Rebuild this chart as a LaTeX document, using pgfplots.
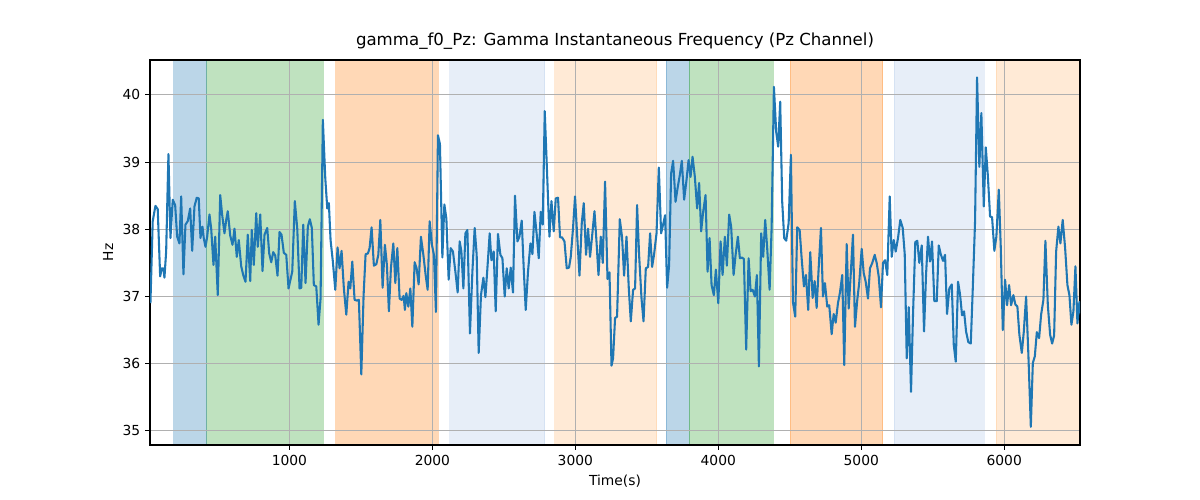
\documentclass[border=0pt]{standalone}
\usepackage{fontspec}
\setmainfont{DejaVu Sans}
\usepackage{pgfplots}
\pgfplotsset{compat=1.18}
\usetikzlibrary{calc}

\definecolor{tabblue}{HTML}{1F77B4}
\definecolor{taborange}{HTML}{FF7F0E}
\definecolor{tabgreen}{HTML}{2CA02C}
\definecolor{ltblue}{HTML}{AEC7E8}
\definecolor{ltorange}{HTML}{FFBB78}
\definecolor{gridgray}{HTML}{B0B0B0}

\begin{document}
\begin{tikzpicture}
\begin{axis}[
  set layers,
  scale only axis,
  width=9.3in,height=3.85in,
  xmin=25,xmax=6530,ymin=34.79,ymax=40.52,
  xtick={1000,2000,3000,4000,5000,6000},
  ytick={35,36,37,38,39,40},
  grid=major,
  major grid style={gridgray,line width=0.8pt},
  tick align=outside,
  major tick length=3.5pt,
  tick pos=left,
  axis line style={line width=0.8pt},
  tick style={black,line width=0.8pt},
  /pgf/number format/assume math mode=true,
  /pgf/number format/1000 sep={},
  tick label style={font=\normalsize},
  xlabel={Time(s)},ylabel={Hz},
  title={gamma\_f0\_Pz: Gamma Instantaneous Frequency (Pz Channel)},
  title style={font=\large,yshift=-2pt},
  every axis plot/.append style={line join=round},
  span/.style={draw=#1,fill=#1,opacity=0.3,on layer=axis background},
]
% shaded segments (span the full y range of the axis)
\addplot[span=tabblue] coordinates {(191,34.79) (191,40.52) (422,40.52) (422,34.79)} -- cycle;
\addplot[span=tabgreen] coordinates {(422,34.79) (422,40.52) (1237,40.52) (1237,34.79)} -- cycle;
\addplot[span=taborange] coordinates {(1323,34.79) (1323,40.52) (2039,40.52) (2039,34.79)} -- cycle;
\addplot[span=ltblue] coordinates {(2121,34.79) (2121,40.52) (2786,40.52) (2786,34.79)} -- cycle;
\addplot[span=ltorange] coordinates {(2856,34.79) (2856,40.52) (3568,40.52) (3568,34.79)} -- cycle;
\addplot[span=tabblue] coordinates {(3633,34.79) (3633,40.52) (3796,40.52) (3796,34.79)} -- cycle;
\addplot[span=tabgreen] coordinates {(3796,34.79) (3796,40.52) (4384,40.52) (4384,34.79)} -- cycle;
\addplot[span=taborange] coordinates {(4501,34.79) (4501,40.52) (5150,40.52) (5150,34.79)} -- cycle;
\addplot[span=ltblue] coordinates {(5229,34.79) (5229,40.52) (5857,40.52) (5857,34.79)} -- cycle;
\addplot[span=ltorange] coordinates {(5943,34.79) (5943,40.52) (6530,40.52) (6530,34.79)} -- cycle;
% gamma instantaneous frequency
\addplot[tabblue,line width=1.5pt,mark=none] coordinates {
(28,36.90) (44,38.12) (63,38.35) (79,38.30) (96,37.30) (107,37.42) (119,37.42) (126,37.28)
(138,37.67) (154,39.12) (168,37.87) (184,38.44) (201,38.36) (215,37.89) (231,37.79) (243,38.49)
(259,37.33) (273,38.07) (289,38.12) (306,38.31) (320,37.68) (336,38.34) (352,38.47) (366,38.46)
(378,37.87) (392,38.04) (401,37.87) (413,37.74) (425,37.89) (441,38.22) (453,38.01) (469,37.47)
(481,37.89) (499,37.02) (516,38.51) (530,38.21) (546,37.94) (558,38.14) (569,38.27) (586,37.91)
(602,37.77) (616,38.01) (632,37.59) (646,37.84) (663,37.45) (677,37.32) (693,37.22) (709,37.92)
(726,37.23) (737,37.99) (751,37.47) (768,38.24) (779,37.74) (796,38.22) (812,37.38) (826,37.92)
(845,38.02) (859,37.64) (873,37.51) (887,37.66) (901,37.61) (917,37.31) (931,37.96) (945,37.92)
(961,37.65) (978,37.62) (994,37.12) (1020,37.37) (1038,38.42) (1055,38.01) (1071,37.12) (1083,37.13)
(1097,38.07) (1113,37.20) (1129,38.04) (1143,38.15) (1157,38.02) (1171,37.17) (1188,37.15) (1204,36.58)
(1218,36.97) (1234,39.63) (1251,38.76) (1265,38.31) (1276,38.39) (1288,37.84) (1304,37.52) (1321,37.10)
(1337,37.73) (1351,37.42) (1365,37.68) (1381,37.12) (1398,36.73) (1414,37.22) (1426,37.12) (1440,37.52)
(1456,36.95) (1472,36.94) (1486,36.95) (1503,35.84) (1519,37.02) (1533,37.63) (1549,37.64) (1561,37.72)
(1575,38.03) (1591,37.46) (1608,37.48) (1622,37.62) (1636,38.14) (1652,37.13) (1668,37.77) (1682,37.47)
(1696,36.78) (1710,37.42) (1727,37.79) (1741,37.20) (1755,37.72) (1771,36.97) (1785,36.95) (1799,37.01)
(1808,36.80) (1818,37.05) (1832,36.85) (1846,37.12) (1860,36.55) (1876,37.51) (1890,37.42) (1904,37.18)
(1920,37.89) (1937,37.62) (1953,37.32) (1967,37.10) (1981,38.12) (1997,37.77) (2011,37.62) (2025,36.77)
(2039,39.40) (2053,39.27) (2070,37.58) (2084,38.37) (2098,38.16) (2114,37.25) (2128,37.72) (2144,37.67)
(2161,37.37) (2177,37.06) (2191,37.82) (2203,37.67) (2217,37.12) (2231,37.94) (2245,37.99) (2263,36.45)
(2280,37.37) (2296,38.02) (2310,37.62) (2324,36.16) (2340,37.02) (2357,37.28) (2371,36.99) (2385,37.42)
(2401,37.94) (2413,37.54) (2429,37.67) (2443,36.78) (2459,37.93) (2476,37.62) (2490,37.57) (2506,37.00)
(2520,37.42) (2534,37.12) (2548,37.43) (2564,37.06) (2578,38.50) (2595,37.82) (2609,37.89) (2625,38.13)
(2639,37.42) (2653,36.80) (2669,37.37) (2686,37.79) (2700,37.63) (2714,38.26) (2730,37.92) (2744,37.57)
(2758,38.26) (2772,38.07) (2786,39.76) (2802,38.86) (2819,37.89) (2833,38.42) (2849,37.97) (2863,38.46)
(2879,38.47) (2893,37.88) (2907,37.88) (2924,37.82) (2940,37.42) (2956,37.43) (2968,37.59) (2984,38.02)
(2998,38.49) (3015,37.83) (3029,37.31) (3045,38.09) (3059,38.39) (3075,37.62) (3089,38.01) (3103,37.59)
(3117,37.89) (3134,38.27) (3148,37.82) (3162,37.32) (3178,37.89) (3192,37.50) (3208,38.71) (3225,37.26)
(3239,37.36) (3253,35.97) (3264,36.08) (3278,36.68) (3292,36.70) (3311,38.15) (3327,37.88) (3341,37.31)
(3358,37.89) (3374,37.12) (3388,36.63) (3404,37.10) (3418,37.12) (3432,38.36) (3446,37.62) (3463,36.97)
(3477,36.63) (3493,37.42) (3509,37.44) (3523,37.94) (3537,37.44) (3551,37.63) (3568,37.94) (3584,38.92)
(3600,37.94) (3614,38.07) (3628,38.21) (3642,37.13) (3656,37.47) (3670,38.83) (3684,39.02) (3701,38.41)
(3715,38.61) (3731,38.81) (3745,39.02) (3761,38.44) (3778,38.74) (3792,39.03) (3806,38.78) (3820,39.08)
(3836,38.78) (3852,38.31) (3866,38.69) (3880,37.97) (3894,38.26) (3911,38.51) (3925,37.37) (3939,37.87)
(3953,37.17) (3969,37.02) (3983,37.40) (4000,36.90) (4016,37.82) (4030,37.32) (4046,37.89) (4060,37.46)
(4076,38.22) (4090,38.04) (4107,37.32) (4121,37.62) (4137,37.89) (4151,37.57) (4165,37.58) (4179,37.56)
(4195,36.21) (4212,37.57) (4226,37.08) (4240,37.10) (4256,37.00) (4270,37.32) (4284,35.96) (4300,37.94)
(4314,37.59) (4328,38.14) (4342,37.72) (4359,37.10) (4373,38.02) (4389,40.12) (4405,39.45) (4419,39.23)
(4433,39.90) (4447,38.41) (4461,37.87) (4475,37.83) (4492,38.09) (4508,39.11) (4522,36.92) (4538,36.70)
(4552,38.03) (4569,37.99) (4583,37.57) (4599,37.15) (4613,37.32) (4629,36.80) (4643,37.66) (4660,36.98)
(4674,37.23) (4688,36.83) (4702,37.42) (4718,38.02) (4732,37.00) (4746,37.20) (4762,36.85) (4776,36.87)
(4793,36.44) (4807,36.74) (4821,36.61) (4837,36.90) (4851,37.06) (4867,37.32) (4881,35.98) (4898,37.78)
(4912,36.82) (4926,37.32) (4942,37.92) (4956,36.55) (4972,36.95) (4986,37.21) (5003,37.71) (5017,37.35)
(5031,37.22) (5047,36.97) (5061,37.42) (5077,37.50) (5094,37.62) (5108,37.50) (5122,37.30) (5138,36.84)
(5152,37.50) (5166,37.54) (5182,37.32) (5199,38.49) (5213,37.59) (5227,37.84) (5241,37.67) (5257,37.87)
(5273,38.14) (5290,38.02) (5304,37.63) (5318,36.08) (5332,36.84) (5348,35.58) (5362,36.73) (5378,37.81)
(5392,37.83) (5406,37.50) (5423,37.76) (5439,36.48) (5453,37.32) (5467,37.89) (5481,37.52) (5495,37.82)
(5511,36.93) (5528,36.93) (5542,37.76) (5556,37.63) (5572,37.53) (5586,37.62) (5600,36.74) (5616,37.12)
(5633,37.18) (5647,36.28) (5661,36.03) (5677,37.22) (5691,37.03) (5705,36.72) (5719,36.78) (5733,36.48)
(5749,36.32) (5766,36.30) (5780,37.12) (5796,38.12) (5810,40.26) (5826,38.93) (5840,39.73) (5857,38.34)
(5871,39.22) (5885,38.81) (5901,38.19) (5915,38.18) (5931,37.68) (5945,37.89) (5962,38.59) (5976,37.72)
(5990,36.50) (6006,37.25) (6020,36.87) (6034,37.17) (6048,36.87) (6064,37.02) (6078,36.88) (6092,36.85)
(6106,36.43) (6123,36.16) (6137,36.48) (6153,37.00) (6169,36.13) (6186,35.06) (6200,36.01) (6214,36.11)
(6228,36.47) (6244,36.38) (6258,36.73) (6274,36.95) (6288,37.83) (6305,36.87) (6321,36.43) (6335,36.30)
(6349,36.42) (6363,37.67) (6379,38.04) (6393,37.79) (6409,38.14) (6426,37.72) (6442,37.17) (6456,37.02)
(6470,36.58) (6484,36.78) (6498,37.45) (6512,36.60) (6526,36.92) (6531,36.75)
};
\end{axis}
\path[use as bounding box] ($(current axis.south west)+(-1.5in,-0.55in)$) rectangle ($(current axis.north east)+(1.2in,0.6in)$);
\end{tikzpicture}
\end{document}
